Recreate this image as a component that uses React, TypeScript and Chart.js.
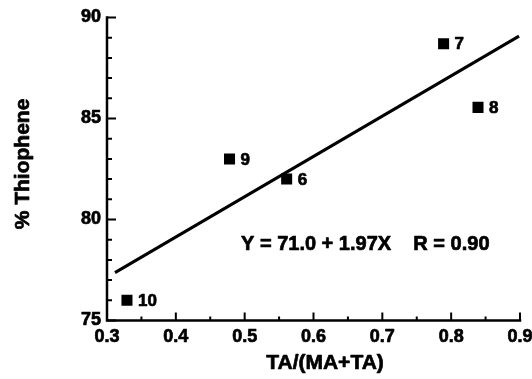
import React, { useEffect, useRef } from "react";
import { Chart, registerables } from "chart.js";

Chart.register(...registerables);

const pointX = [0.329, 0.478, 0.561, 0.789, 0.839];
const pointY = [76.0, 83.0, 82.0, 88.7, 85.55];
const pointLabels = ["10", "9", "6", "7", "8"];
const fitX = [0.3116, 0.8986];
const fitY = [77.37, 89.08];
const xMajorTicks = [0.3, 0.4, 0.5, 0.6, 0.7, 0.8, 0.9];
const xTickLabels = ["0.3", "0.4", "0.5", "0.6", "0.7", "0.8", "0.9"];
const xMinorTicks = [0.35, 0.45, 0.55, 0.65, 0.75, 0.85];
const yMajorTicks = [75, 80, 85, 90];
const yTickLabels = ["75", "80", "85", "90"];
const yMinorTicks = [76, 77, 78, 79, 81, 82, 83, 84, 86, 87, 88, 89];
const xTitle = "TA/(MA+TA)";
const yTitle = "% Thiophene";
const equationText = "Y = 71.0 + 1.97X    R = 0.90";

const FONT = '"Liberation Sans", Arial, Helvetica, sans-serif';

function boldText(ctx: CanvasRenderingContext2D, t: string, x: number, y: number) {
  ctx.fillText(t, x, y);
  ctx.strokeText(t, x, y);
}

const axesPlugin = {
  id: "customAxes",
  afterDraw(chart: any) {
    const ctx = chart.ctx as CanvasRenderingContext2D;
    const xs = chart.scales.x;
    const ys = chart.scales.y;
    const { left, right, top, bottom } = chart.chartArea;
    ctx.save();
    ctx.strokeStyle = "#000";
    ctx.fillStyle = "#000";
    ctx.lineWidth = 2.5;
    ctx.lineCap = "square";
    ctx.beginPath();
    ctx.moveTo(left, top);
    ctx.lineTo(left, bottom);
    ctx.lineTo(right, bottom);
    ctx.stroke();
    ctx.lineWidth = 2;
    ctx.lineCap = "butt";
    ctx.beginPath();
    yMajorTicks.forEach((v) => {
      const p = ys.getPixelForValue(v);
      ctx.moveTo(left, p);
      ctx.lineTo(left + 9, p);
    });
    yMinorTicks.forEach((v) => {
      const p = ys.getPixelForValue(v);
      ctx.moveTo(left, p);
      ctx.lineTo(left + 5, p);
    });
    xMajorTicks.forEach((v) => {
      const p = xs.getPixelForValue(v);
      ctx.moveTo(p, bottom);
      ctx.lineTo(p, bottom - 8);
    });
    xMinorTicks.forEach((v) => {
      const p = xs.getPixelForValue(v);
      ctx.moveTo(p, bottom);
      ctx.lineTo(p, bottom - 4);
    });
    ctx.stroke();

    ctx.lineWidth = 0.7;
    ctx.lineJoin = "round";

    // tick labels
    ctx.font = `bold 18px ${FONT}`;
    ctx.textAlign = "right";
    ctx.textBaseline = "middle";
    yMajorTicks.forEach((v, i) => {
      boldText(ctx, yTickLabels[i], left - 6, ys.getPixelForValue(v));
    });
    ctx.textAlign = "center";
    xMajorTicks.forEach((v, i) => {
      boldText(ctx, xTickLabels[i], xs.getPixelForValue(v), bottom + 17);
    });

    // axis titles
    ctx.font = `bold 21px ${FONT}`;
    boldText(ctx, xTitle, 325, bottom + 43);
    ctx.save();
    ctx.translate(23, 164);
    ctx.rotate(-Math.PI / 2);
    boldText(ctx, yTitle, 0, 0);
    ctx.restore();

    // point labels
    ctx.font = `bold 17px ${FONT}`;
    ctx.textAlign = "left";
    const meta = chart.getDatasetMeta(1);
    meta.data.forEach((el: any, i: number) => {
      boldText(ctx, pointLabels[i], el.x + 11, el.y + 1);
    });

    // equation
    ctx.font = `bold 20px ${FONT}`;
    ctx.textBaseline = "alphabetic";
    boldText(ctx, equationText, 241, 250);
    ctx.restore();
  },
};

export default function App() {
  const ref = useRef<HTMLCanvasElement>(null);
  useEffect(() => {
    if (!ref.current) return;
    const chart = new Chart(ref.current, {
      type: "scatter",
      data: {
        datasets: [
          {
            type: "line",
            data: fitX.map((x, i) => ({ x, y: fitY[i] })),
            borderColor: "#000",
            borderWidth: 3,
            pointRadius: 0,
            fill: false,
          } as any,
          {
            data: pointX.map((x, i) => ({ x, y: pointY[i] })),
            pointStyle: "rect",
            pointRadius: 7.8,
            backgroundColor: "#000",
            borderColor: "#000",
            borderWidth: 0,
          },
        ],
      },
      options: {
        animation: false,
        responsive: false,
        devicePixelRatio: 1,
        layout: { padding: { left: 0, right: 12, top: 17.5, bottom: 0 } },
        plugins: { legend: { display: false }, tooltip: { enabled: false } },
        scales: {
          x: {
            type: "linear",
            min: 0.3,
            max: 0.9,
            grid: { display: false },
            border: { display: false },
            ticks: { display: false },
            afterFit: (s: any) => {
              s.height = 58.5;
            },
          },
          y: {
            type: "linear",
            min: 75,
            max: 90,
            grid: { display: false },
            border: { display: false },
            ticks: { display: false },
            afterFit: (s: any) => {
              s.width = 107;
            },
          },
        },
      },
      plugins: [axesPlugin],
    });
    return () => chart.destroy();
  }, []);
  return (
    <div style={{ position: "fixed", left: 0, top: 0, width: 532, height: 379, background: "#fff" }}>
      <canvas ref={ref} width={532} height={379} style={{ width: 532, height: 379 }} />
    </div>
  );
}
